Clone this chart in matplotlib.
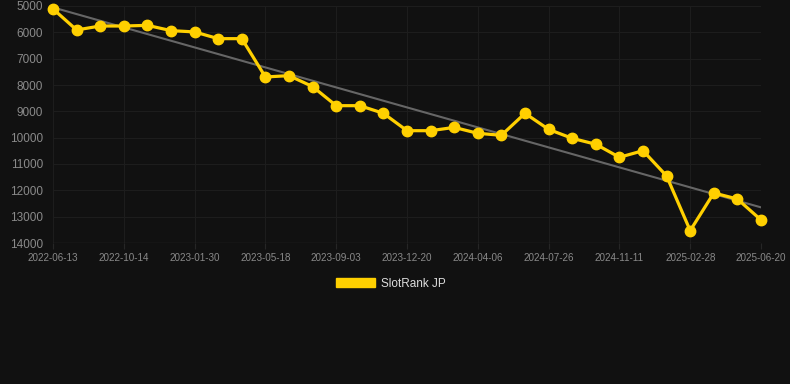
import numpy as np
from matplotlib import pyplot as plt
from matplotlib.patches import Patch

dates = ["2022-06-13", "2022-10-14", "2023-01-30", "2023-05-18", "2023-09-03",
         "2023-12-20", "2024-04-06", "2024-07-26", "2024-11-11", "2025-02-28",
         "2025-06-20"]
ranks = [5110, 5910, 5760, 5760, 5735, 5935, 5985, 6240, 6240, 7695,
         7645, 8060, 8785, 8785, 9075, 9735, 9735, 9610, 9835, 9910,
         9075, 9685, 10025, 10250, 10745, 10495, 11455, 13530, 12100, 12330,
         13125]

bg = "#111111"
gold = "#FFD000"
plt.rcParams['font.family'] = ['Liberation Sans', 'DejaVu Sans']

fig = plt.figure(figsize=(7.9, 3.84), dpi=100, facecolor=bg)
ax = fig.add_axes([53/790, 1-243/384, 708/790, 237/384], facecolor=bg)

x = np.arange(len(ranks))
slope, icept = np.polyfit(x, ranks, 1)
ax.plot(x, slope*x + icept, color="#666666", lw=1.5, zorder=2)
ax.plot(x, ranks, color=gold, lw=2.3, marker='o', markersize=7.5,
        zorder=3, clip_on=False)

ax.set_xlim(0, len(ranks)-1)
ax.set_ylim(14000, 5000)
ax.set_yticks(range(5000, 14001, 1000))
ax.set_xticks(x[::3])
ax.set_xticklabels(dates)
ax.tick_params(axis='y', colors="#8a8a8a", labelsize=8.5, length=0, pad=7)
ax.tick_params(axis='x', colors="#262626", labelcolor="#8a8a8a", labelsize=7.1,
               length=4, pad=3)
ax.grid(True, color="#1d1d1d", lw=0.8)
for s in ax.spines.values():
    s.set_visible(False)
ax.axhline(14000, color="#282828", lw=1)

leg = fig.legend(handles=[Patch(facecolor=gold, edgecolor=gold, label="SlotRank JP")],
                 loc='center', bbox_to_anchor=(391/790, 1-284/384), frameon=False,
                 fontsize=8.5, handlelength=3.25, handleheight=0.8, handletextpad=0.55)
for t in leg.get_texts():
    t.set_color("#dddddd")

fig.savefig("out.png", dpi=100, facecolor=bg)
